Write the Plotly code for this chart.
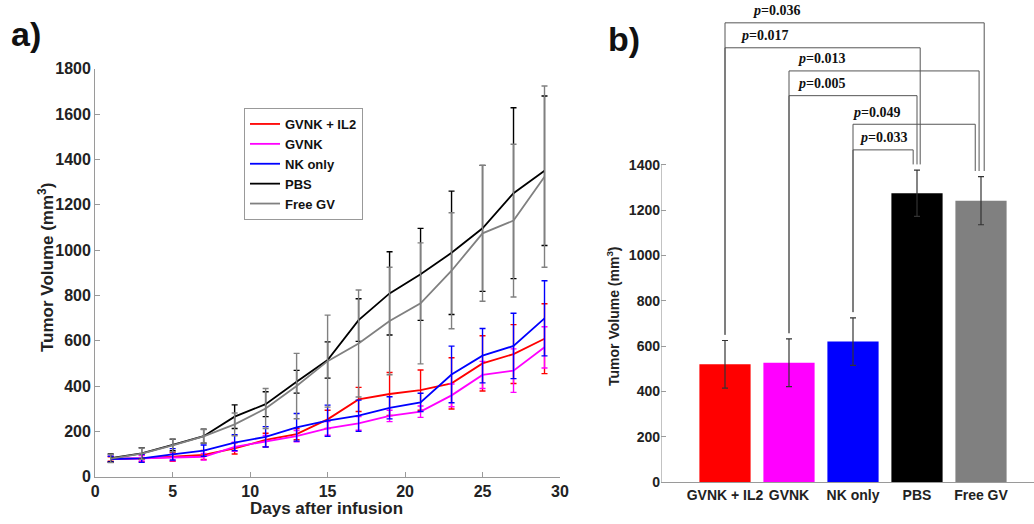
import plotly.graph_objects as go

# ---------------- data: panel a) ----------------
days = [1, 3, 5, 7, 9, 11, 13, 15, 17, 19, 21, 23, 25, 27, 29]
series_names = ["GVNK + IL2", "GVNK", "NK only", "PBS", "Free GV"]
gvnk_il2 = [78, 81, 88, 96, 125, 162, 188, 253, 341, 365, 382, 412, 500, 541, 609]
gvnk_il2_err = [10, 15, 20, 20, 25, 30, 25, 40, 53, 95, 89, 113, 122, 130, 154]
gvnk = [78, 81, 85, 88, 132, 157, 179, 213, 235, 268, 287, 359, 449, 468, 571]
gvnk_err = [12, 12, 15, 15, 20, 25, 25, 30, 30, 25, 25, 50, 60, 96, 91]
nk_only = [78, 81, 99, 115, 150, 176, 218, 247, 269, 304, 328, 451, 534, 577, 699]
nk_only_err = [12, 18, 25, 25, 35, 45, 61, 69, 69, 49, 40, 125, 120, 144, 166]
pbs = [82, 103, 140, 179, 265, 320, 419, 515, 691, 809, 893, 988, 1096, 1251, 1350]
pbs_err = [18, 25, 25, 31, 52, 55, 50, 80, 94, 184, 203, 272, 278, 377, 330]
free_gv = [80, 102, 138, 178, 231, 301, 400, 510, 588, 687, 765, 909, 1074, 1130, 1324]
free_gv_err = [18, 25, 28, 30, 50, 88, 144, 203, 236, 237, 267, 256, 300, 337, 400]
y_ticks_a = [0, 200, 400, 600, 800, 1000, 1200, 1400, 1600, 1800]
x_ticks_a = [0, 5, 10, 15, 20, 25, 30]

# ---------------- data: panel b) ----------------
groups = ["GVNK + IL2", "GVNK", "NK only", "PBS", "Free GV"]
bar_means = [520, 527, 620, 1274, 1241]
bar_errs = [105, 105, 105, 102, 106]
y_ticks_b = [0, 200, 400, 600, 800, 1000, 1200, 1400]
# (group i, group j, p-value)
comparisons = [(0, 4, "0.036"), (0, 3, "0.017"), (1, 4, "0.013"),
               (1, 3, "0.005"), (2, 4, "0.049"), (2, 3, "0.033")]

# ---------------- styles ----------------
colors = ["#ff0000", "#ff00ff", "#0000ff", "#000000", "#808080"]
SANS = "Liberation Sans, Arial, sans-serif"
SERIF = "Liberation Serif, Times New Roman, serif"
AX = "#9a9a9a"
W, H = 1034, 524

fig = go.Figure()

line_data = [(gvnk_il2, gvnk_il2_err), (gvnk, gvnk_err), (nk_only, nk_only_err),
             (pbs, pbs_err), (free_gv, free_gv_err)]
for name, (vals, errs), c in zip(series_names, line_data, colors):
    fig.add_trace(go.Scatter(
        x=days, y=vals, name=name, mode="lines",
        line=dict(color=c, width=1.8),
        error_y=dict(type="data", array=errs, visible=True, color=c,
                     thickness=1.4, width=3),
        xaxis="x", yaxis="y"))

fig.add_trace(go.Bar(
    x=list(range(1, 6)), y=bar_means, width=0.8,
    marker=dict(color=colors, line=dict(width=0)),
    error_y=dict(type="data", array=bar_errs, visible=True, color="#333333",
                 thickness=1.2, width=3),
    showlegend=False, xaxis="x2", yaxis="y2"))

# ---------- brackets for panel b ----------
bracket_levels = [2025, 1915, 1813, 1704, 1578, 1465]
right_leg_offset = [0.05, 0.05, -0.03, 0.0, -0.09, -0.06]
label_offset = [0.80, 0.62, 0.50, 0.51, 0.36, 0.48]
shapes = []
annotations = []
for k, (i, j, p) in enumerate(comparisons):
    lvl = bracket_levels[k]
    xi = i + 1
    xj = j + 1 + right_leg_offset[k]
    yi = bar_means[i] + bar_errs[i] + 25
    yj = bar_means[j] + bar_errs[j] + 25
    path = f"M {xi} {yi} L {xi} {lvl} L {xj} {lvl} L {xj} {yj}"
    shapes.append(dict(type="path", path=path, xref="x2", yref="y2",
                       line=dict(color="#555555", width=1)))
    annotations.append(dict(
        x=xi + label_offset[k], y=lvl, xref="x2", yref="y2", yshift=12,
        text=f"<b><i>p</i>=</b><b>{p}</b>", showarrow=False,
        font=dict(family=SERIF, size=14, color="#111111"),
        xanchor="center", yanchor="middle"))

# y axis line for panel b (only up to 1400)
shapes.append(dict(type="line", x0=0, x1=0, y0=0, y1=1400, xref="x2", yref="y2",
                   line=dict(color=AX, width=1.2)))

def px(x):
    return x / W

def py(y):
    return (H - y) / H

annotations += [
    dict(x=px(26), y=py(34), xref="paper", yref="paper", text="<b>a)</b>",
         showarrow=False, font=dict(family=SANS, size=34, color="#111"),
         xanchor="center", yanchor="middle"),
    dict(x=px(624), y=py(39), xref="paper", yref="paper", text="<b>b)</b>",
         showarrow=False, font=dict(family=SANS, size=34, color="#111"),
         xanchor="center", yanchor="middle"),
    dict(x=px(46), y=py(268), xref="paper", yref="paper",
         text="<b>Tumor Volume (mm<sup>3</sup>)</b>", textangle=-90,
         showarrow=False, font=dict(family=SANS, size=17, color="#222"),
         xanchor="center", yanchor="middle"),
    dict(x=px(326), y=py(508), xref="paper", yref="paper",
         text="<b>Days after infusion</b>",
         showarrow=False, font=dict(family=SANS, size=17, color="#222"),
         xanchor="center", yanchor="middle"),
    dict(x=px(613), y=py(316), xref="paper", yref="paper",
         text="<b>Tumor Volume (mm<sup>3</sup>)</b>", textangle=-90,
         showarrow=False, font=dict(family=SANS, size=14, color="#222"),
         xanchor="center", yanchor="middle"),
]

tickfont_a = dict(family=SANS, size=16, color="#222", weight="bold")
tickfont_b = dict(family=SANS, size=14, color="#222", weight="bold")

fig.update_layout(
    width=W, height=H,
    margin=dict(l=0, r=0, t=0, b=0, autoexpand=False),
    paper_bgcolor="white", plot_bgcolor="white",
    showlegend=True,
    legend=dict(x=px(244), y=py(108), xanchor="left", yanchor="top",
                bgcolor="white", bordercolor="#999", borderwidth=1,
                font=dict(family=SANS, size=13, color="#111", weight="bold"),
                itemwidth=30, tracegroupgap=0),
    xaxis=dict(domain=[px(95.2), px(560)], range=[0, 30], tickvals=x_ticks_a,
               showline=True, linecolor=AX, linewidth=1.2, ticks="inside",
               ticklen=5, tickcolor=AX, showgrid=False, zeroline=False,
               tickfont=tickfont_a, anchor="y", automargin=False),
    yaxis=dict(domain=[py(476.7), py(68.8)], range=[0, 1800], tickvals=y_ticks_a,
               showline=True, linecolor=AX, linewidth=1.2, ticks="inside",
               ticklen=5, tickcolor=AX, showgrid=False, zeroline=False,
               tickfont=tickfont_a, anchor="x", automargin=False),
    xaxis2=dict(domain=[px(661), 1.0], range=[0, (W - 661) / 64],
                tickvals=list(range(1, 6)), ticktext=groups,
                showline=True, linecolor=AX, linewidth=1.2, ticks="",
                showgrid=False, zeroline=False, tickfont=tickfont_b, anchor="y2",
                automargin=False),
    yaxis2=dict(domain=[py(482.3), py(482.3 - 2100 * 0.2269)], range=[0, 2100],
                tickvals=y_ticks_b, showline=False, ticks="inside", ticklen=5,
                tickcolor=AX, showgrid=False, zeroline=False,
                tickfont=tickfont_b, anchor="x2", automargin=False),
    shapes=shapes, annotations=annotations,
)

fig.write_html("out.html")
